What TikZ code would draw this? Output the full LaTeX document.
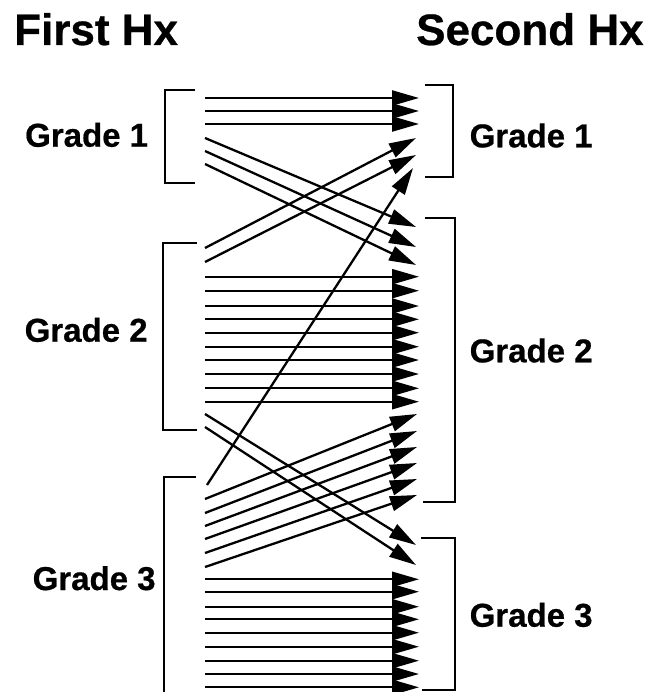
\documentclass[tikz,border=0pt]{standalone}
\usepackage{fontspec}
\setmainfont{Liberation Sans}
\newfontfamily\heavyfont{Liberation Sans Bold}[FakeBold=0.6]
\usetikzlibrary{arrows.meta}
\begin{document}
\begin{tikzpicture}[x=1pt,y=-1pt,
  flow/.style={line width=2.3pt,-{Triangle[length=27pt,width=15pt]}},
  bracket/.style={line width=1.6pt},
  grade/.style={font=\heavyfont\fontsize{33}{40}\selectfont,anchor=base west,inner sep=0pt},
  heading/.style={font=\heavyfont\fontsize{44}{52}\selectfont,anchor=base west,inner sep=0pt}]
\useasboundingbox (0,0) rectangle (664,692);

% column headings
\node[heading] (first)  at (14,45)  {First Hx};
\node[heading] (second) at (416,45) {Second Hx};

% grade labels
\node[grade] (l1) at (25,146.7)  {Grade 1};
\node[grade] (l2) at (24.5,341.7){Grade 2};
\node[grade] (l3) at (32.5,590)  {Grade 3};
\node[grade] (r1) at (469.5,147.3) {Grade 1};
\node[grade] (r2) at (469.5,362.3) {Grade 2};
\node[grade] (r3) at (469.5,626.7) {Grade 3};

% brackets, first history
\draw[bracket] (195,90) -- (165,90) -- (165,183) -- (195,183);
\draw[bracket] (197,243) -- (163,243) -- (163,430) -- (197,430);
\draw[bracket] (196,477) -- (164,477) -- (164,695);
% brackets, second history
\draw[bracket] (425,85) -- (453,85) -- (453,177) -- (425,177);
\draw[bracket] (425,218) -- (455,218) -- (455,502) -- (423,502);
\draw[bracket] (421,538) -- (455,538) -- (455,690) -- (422,690);

% grade 1 -> grade 1
\foreach \y [count=\i] in {98,111,124}{
  \coordinate (a\i) at (205,\y);
  \coordinate (b\i) at (419,\y);
  \draw[flow] (a\i) -- (b\i);
}
% grade 1 -> grade 2
\foreach \ya/\yb [count=\i] in {138/227,151/247,164/265}{
  \coordinate (c\i) at (205,\ya);
  \coordinate (d\i) at (416,\yb);
  \draw[flow] (c\i) -- (d\i);
}
% grade 2 -> grade 1
\foreach \ya/\yb [count=\i] in {248/138,262/155}{
  \coordinate (e\i) at (205,\ya);
  \coordinate (f\i) at (416,\yb);
  \draw[flow] (e\i) -- (f\i);
}
% grade 2 -> grade 2
\foreach \y [count=\i] in {276.7,290.7,306,319.3,332.7,346.7,360,374,388.3,401.7}{
  \coordinate (g\i) at (205,\y);
  \coordinate (h\i) at (419,\y);
  \draw[flow] (g\i) -- (h\i);
}
% grade 2 -> grade 3
\foreach \ya/\yb [count=\i] in {414/545,427/565}{
  \coordinate (m\i) at (205,\ya);
  \coordinate (n\i) at (416,\yb);
  \draw[flow] (m\i) -- (n\i);
}
% grade 3 -> grade 1
\coordinate (p1) at (207,485);
\coordinate (q1) at (413,168);
\draw[flow] (p1) -- (q1);
% grade 3 -> grade 2
\foreach \ya/\yb [count=\i] in {499/414,513/431,526/447,539/463,553/479,567/495}{
  \coordinate (u\i) at (205,\ya);
  \coordinate (v\i) at (417,\yb);
  \draw[flow] (u\i) -- (v\i);
}
% grade 3 -> grade 3
\foreach \y [count=\i] in {579.3,591.7,606.7,619.3,632.7,646.7,660.7,674,687.3}{
  \coordinate (w\i) at (205,\y);
  \coordinate (z\i) at (419,\y);
  \draw[flow] (w\i) -- (z\i);
}
\end{tikzpicture}
\end{document}
